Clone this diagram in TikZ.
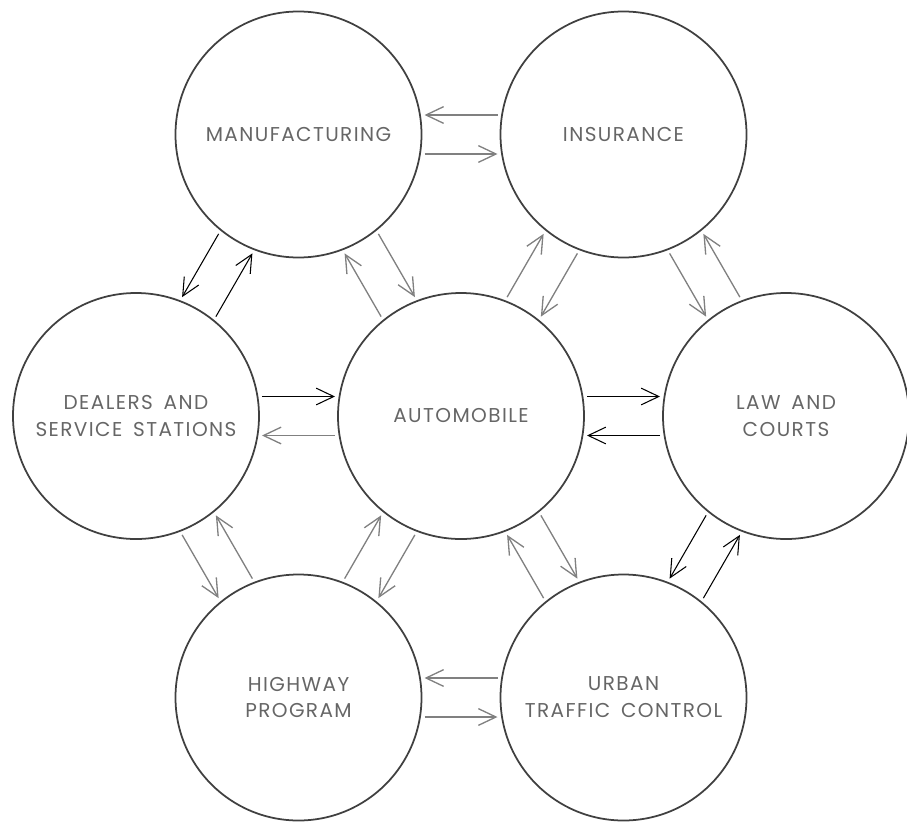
\documentclass[tikz,border=0pt]{standalone}
\usepackage{fontspec}
\setmainfont{Poppins}[LetterSpace=7, WordSpace=1.6]
\usepackage{tikz}
\usetikzlibrary{calc, arrows.meta}

% pair of parallel links from #2 to #3, shifted sideways by #4
\newcommand{\flow}[4]{%
	\draw[#1] ($(#2)!\gap cm!(#3)!#4cm!90:(#3)$) -- ($(#3)!\gap cm!(#2)!#4cm!-90:(#2)$);}

\tikzset{
	sector/.style={circle, draw=black!75, line width=1pt, minimum size=4.92cm, inner sep=0pt,
		align=center, text=black!60, font=\fontsize{11.4}{15.3}\selectfont},
	dark/.style={draw=black, line width=0.6pt, -{Straight Barb[length=10pt,width=9.5pt]}},
	pale/.style={draw=black!50, line width=0.75pt, -{Straight Barb[length=10pt,width=9.5pt]}},
}

\begin{document}
\begin{tikzpicture}

% spacing of the hexagon of sectors
\pgfmathsetmacro{\hx}{3.25}
\pgfmathsetmacro{\vy}{5.63}
\pgfmathsetmacro{\gap}{2.52}
\pgfmathsetmacro{\off}{0.39}

\useasboundingbox (-9.22,-8.10) rectangle (8.92,8.32);

% sectors
\node[sector] (auto) at (0,0) {AUTOMOBILE};
\node[sector] (mfg) at (-\hx,\vy) {MANUFACTURING};
\node[sector] (ins) at (\hx,\vy) {INSURANCE};
\node[sector] (dlr) at (-2*\hx,0) {DEALERS AND\\SERVICE STATIONS};
\node[sector] (law) at (2*\hx,0) {LAW AND\\COURTS};
\node[sector] (hwy) at (-\hx,-\vy) {HIGHWAY\\PROGRAM};
\node[sector] (urb) at (\hx,-\vy) {URBAN\\TRAFFIC CONTROL};

% links to and from the automobile keep to the left
\flow{pale}{mfg}{auto}{\off}
\flow{pale}{auto}{mfg}{\off}
\flow{pale}{ins}{auto}{\off}
\flow{pale}{auto}{ins}{\off}
\flow{dark}{dlr}{auto}{\off}
\flow{pale}{auto}{dlr}{\off}
\flow{dark}{auto}{law}{\off}
\flow{dark}{law}{auto}{\off}
\flow{pale}{hwy}{auto}{\off}
\flow{pale}{auto}{hwy}{\off}
\flow{pale}{urb}{auto}{\off}
\flow{pale}{auto}{urb}{\off}

% links round the outer ring keep to the right
\flow{pale}{mfg}{ins}{-\off}
\flow{pale}{ins}{mfg}{-\off}
\flow{pale}{ins}{law}{-\off}
\flow{pale}{law}{ins}{-\off}
\flow{dark}{law}{urb}{-\off}
\flow{dark}{urb}{law}{-\off}
\flow{pale}{urb}{hwy}{-\off}
\flow{pale}{hwy}{urb}{-\off}
\flow{pale}{hwy}{dlr}{-\off}
\flow{pale}{dlr}{hwy}{-\off}
\flow{dark}{dlr}{mfg}{-\off}
\flow{dark}{mfg}{dlr}{-\off}

\end{tikzpicture}
\end{document}
